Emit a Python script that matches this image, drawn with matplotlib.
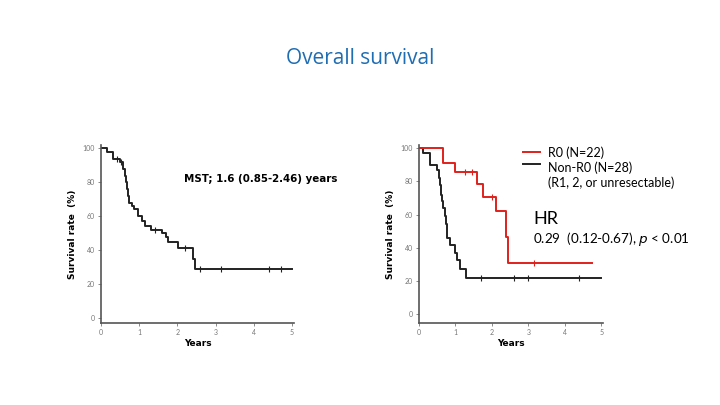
import matplotlib.pyplot as plt

plt.rcParams['font.family'] = ['Lato', 'DejaVu Sans']

# overall survival (all patients): time of each step and level after it
all_t = [0, 0.15, 0.32, 0.5, 0.58, 0.62, 0.65, 0.68, 0.71, 0.74, 0.8, 0.86,
         0.97, 1.06, 1.15, 1.32, 1.6, 1.7, 1.76, 2.02, 2.41, 2.45, 5.0]
all_s = [100, 98, 94, 92, 88, 84, 80, 76, 72, 68, 66, 64,
         60, 57, 54, 52, 50, 48, 44.5, 41, 35, 29, 29]
all_cens = [0.42, 0.52, 1.42, 2.2, 2.6, 3.15, 4.4, 4.7]

# R0 group
r0_t = [0, 0.66, 0.98, 1.59, 1.75, 2.1, 2.39, 2.45, 4.74]
r0_s = [100, 91, 85.5, 78.5, 70.5, 62, 46.5, 31, 31]
r0_cens = [1.25, 1.45, 2.0, 3.15]

# Non-R0 group
nr_t = [0, 0.1, 0.3, 0.5, 0.55, 0.58, 0.61, 0.64, 0.67, 0.7, 0.74, 0.77,
        0.86, 0.98, 1.03, 1.12, 1.3, 5.0]
nr_s = [100, 97, 90, 87, 82, 78, 72, 68, 64, 59, 54, 46,
        41.5, 36.5, 32.5, 27, 21.5, 21.5]
nr_cens = [1.7, 2.6, 3.0, 4.4]

fig = plt.figure(figsize=(7.2, 4.05), dpi=100)
fig.patch.set_facecolor('white')

fig.text(0.5, 1 - 59 / 405, 'Overall survival', ha='center', va='center',
         fontsize=15, color='#1f6db3', family=['Open Sans', 'DejaVu Sans'])


def km_axes(rect, ylo):
    ax = fig.add_axes(rect)
    ax.set_xlim(0, 5.05)
    ax.set_ylim(ylo, 102)
    ax.set_xticks(range(6))
    ax.set_yticks(range(0, 101, 20))
    for s in ['top', 'right']:
        ax.spines[s].set_visible(False)
    for s in ['left', 'bottom']:
        ax.spines[s].set_color('#555555')
        ax.spines[s].set_linewidth(1.2)
    ax.tick_params(labelsize=5, colors='#777777', length=2.5, width=0.6, pad=2)
    ax.set_xlabel('Years', fontsize=6.5, fontweight='bold', labelpad=2,
                  family=['DejaVu Sans'])
    ax.set_ylabel('Survival rate  (%)', fontsize=6.5, fontweight='bold',
                  labelpad=4, family=['DejaVu Sans'])
    return ax


def censor(ax, t, s, c, color):
    ys = []
    for x in c:
        v = s[0]
        for ti, si in zip(t, s):
            if ti <= x:
                v = si
        ys.append(v)
    ax.plot(c, ys, ls='none', marker='|', ms=4, mew=0.8, color=color)


ax1 = km_axes([101 / 720, 1 - 323 / 405, 193 / 720, 178 / 405], -3)
ax1.step(all_t, all_s, where='post', color='#222222', lw=1.4)
censor(ax1, all_t, all_s, all_cens, '#222222')
fig.text(184 / 720, 1 - 179 / 405, 'MST; 1.6 (0.85-2.46) years', fontsize=7.4,
         fontweight='bold', va='center', family=['DejaVu Sans'])

ax2 = km_axes([419 / 720, 1 - 323 / 405, 184 / 720, 178 / 405], -5.5)
ax2.step(nr_t, nr_s, where='post', color='#222222', lw=1.4)
censor(ax2, nr_t, nr_s, nr_cens, '#222222')
ax2.step(r0_t, r0_s, where='post', color='#e0201b', lw=1.4)
censor(ax2, r0_t, r0_s, r0_cens, '#e0201b')

# legend and hazard ratio
fig.add_artist(plt.Line2D([523 / 720, 540 / 720], [1 - 152 / 405] * 2,
                          color='#e0201b', lw=1.4))
fig.add_artist(plt.Line2D([523 / 720, 540 / 720], [1 - 164 / 405] * 2,
                          color='#222222', lw=1.4))
fig.text(548 / 720, 1 - 153 / 405, 'R0 (N=22)', fontsize=9, va='center')
fig.text(548 / 720, 1 - 168 / 405, 'Non-R0 (N=28)', fontsize=9, va='center')
fig.text(548 / 720, 1 - 183 / 405, '(R1, 2, or unresectable)', fontsize=9,
         va='center')
fig.text(533 / 720, 1 - 219 / 405, 'HR', fontsize=13, va='center')
fig.text(533 / 720, 1 - 239 / 405, '0.29  (0.12-0.67), $p$ < 0.01', fontsize=9.7,
         va='center')

fig.savefig('out.png', dpi=100)
